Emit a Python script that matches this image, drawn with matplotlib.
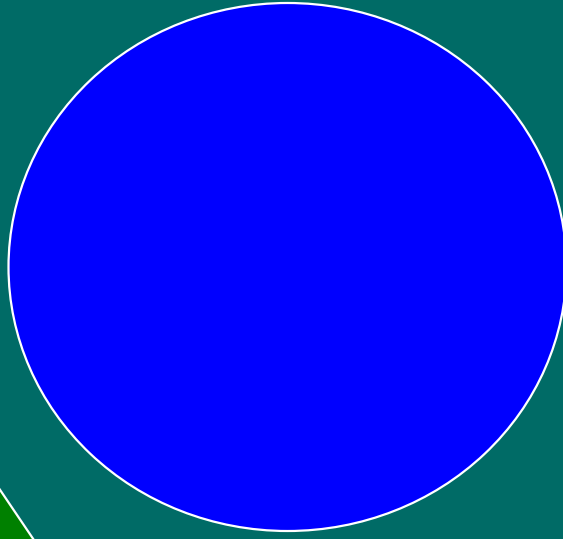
import matplotlib
matplotlib.use("Agg")
import matplotlib.pyplot as plt
from matplotlib.patches import Ellipse, Polygon

# shapes in pixel-like data units (origin top-left)
ellipse_center = (287.5, 267.0)
ellipse_size = (558.0, 528.0)
wedge_x = [-10, 40, -10]
wedge_y = [475, 549, 549]

fig = plt.figure(figsize=(5.63, 5.39), dpi=100)
fig.patch.set_facecolor("#006b66")
ax = fig.add_axes([0, 0, 1, 1])
ax.set_facecolor("#006b66")
ax.set_xlim(0, 563)
ax.set_ylim(539, 0)
ax.axis("off")

ax.add_patch(Polygon(list(zip(wedge_x, wedge_y)), closed=True,
                     facecolor="#008000", edgecolor="white", linewidth=1.6))
ax.add_patch(Ellipse(ellipse_center, ellipse_size[0], ellipse_size[1],
                     facecolor="#0000ff", edgecolor="white", linewidth=1.6))

fig.savefig("out.png", dpi=100, facecolor=fig.get_facecolor())
